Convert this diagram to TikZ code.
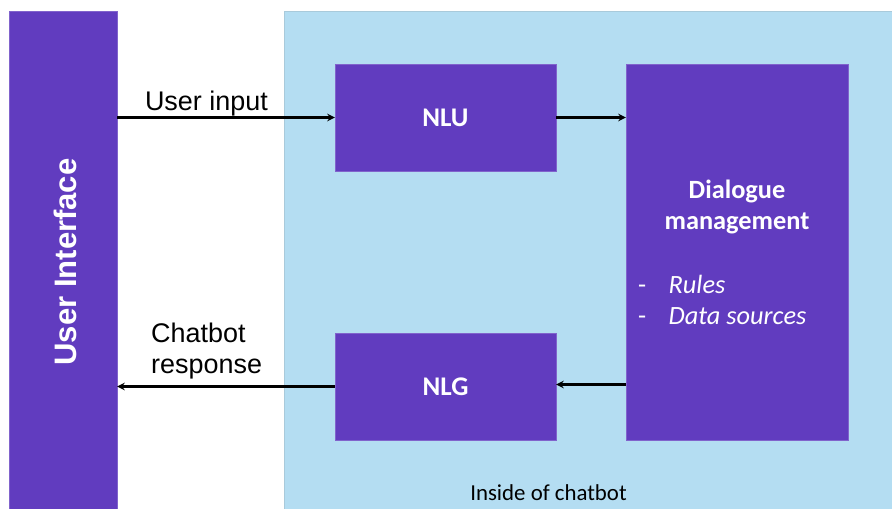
\documentclass[tikz,border=0pt]{standalone}
\usepackage{fontspec}
\setmainfont{Carlito}
\newfontfamily\arialfont{Liberation Sans}
\usetikzlibrary{calc}
\definecolor{boxpurple}{RGB}{97,60,191}
\definecolor{chatblue}{RGB}{180,221,242}

\begin{document}
\begin{tikzpicture}[>=stealth,x=0.03cm,y=-0.03cm]
    \tikzset{
        block/.style={fill=boxpurple,draw=boxpurple!80!white,text=white,font=\fontsize{23}{27}\selectfont\bfseries,align=center,inner sep=0pt},
        flow/.style={->,line width=1.8pt},
        lbl/.style={font=\arialfont\fontsize{23}{27}\selectfont,align=left,inner sep=0pt}
    }
    \useasboundingbox (0,0) rectangle (892,509);
    \fill[white] (0,0) rectangle (892,509);
    % the chatbot area
    \node[fill=chatblue,draw=chatblue!80!gray,minimum width=18.24cm,minimum height=14.94cm,inner sep=0pt] (chatbot) at (588,260) {};
    \node[font=\fontsize{19.5}{23}\selectfont] (inside) at (548.5,493) {Inside of chatbot};
    % user side
    \node[block,minimum width=3.24cm,minimum height=14.94cm] (ui) at (63,260) {};
    \node[font=\arialfont\bfseries\fontsize{26.5}{30}\selectfont,text=white,rotate=90] (uitext) at (65,262) {User Interface};
    % blocks
    \node[block,minimum width=6.63cm,minimum height=3.21cm] (nlu) at (445.5,117.5) {NLU};
    \node[block,minimum width=6.63cm,minimum height=3.21cm] (nlg) at (445.5,386.5) {NLG};
    \node[block,minimum width=6.66cm,minimum height=11.28cm] (dm) at (737,252) {};
    \node[text=white,font=\fontsize{22.5}{27}\selectfont\bfseries,align=center] (dmtitle) at (737,207) {Dialogue\\management};
    \node[text=white,font=\fontsize{22.5}{26.5}\selectfont,align=left,anchor=west] (dmlist) at (634,300) {-\hspace{0.85em}\textit{Rules}\\-\hspace{0.85em}\textit{Data sources}};
    % arrows
    \draw[flow] (nlu.west -| ui.east) -- (nlu.west) node[lbl,pos=0.41,above=0.5pt] (inlbl) {User input};
    \draw[flow] (nlu.east) -- (nlu.east -| dm.west);
    \draw[flow] ($(nlg.east -| dm.west)+(0,-2)$) -- ($(nlg.east)+(0,-2)$);
    \draw[flow] (nlg.west) -- (nlg.west -| ui.east);
    \node[lbl,anchor=west] (outlbl) at (151,351) {Chatbot\\response};
\end{tikzpicture}
\end{document}
